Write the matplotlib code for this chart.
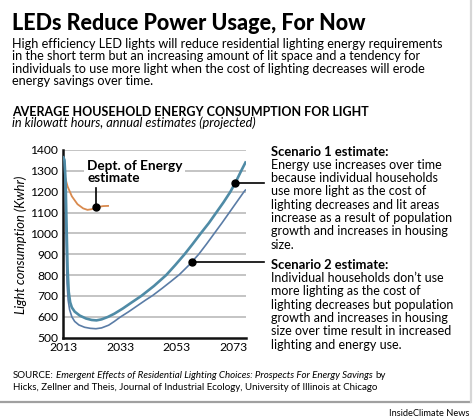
import numpy as np
import matplotlib.pyplot as plt
from matplotlib.lines import Line2D

plt.rcParams['font.family'] = ['Lato', 'DejaVu Sans']

# --- data ---
s1_years = [2013.0, 2013.4, 2013.8, 2014.2, 2014.5, 2014.9, 2015.4, 2016.0, 2017.0,
            2018.8, 2021.0, 2023.0, 2024.7, 2026.5, 2028.8, 2031.0, 2034.0, 2037.0,
            2040.5, 2045.0, 2049.3, 2052.5, 2055.8, 2058.7, 2061.5, 2064.4, 2067.0,
            2069.6, 2072.0, 2074.0, 2075.8, 2077.3]
s1_kwh = [1365, 1352, 1250, 1000, 830, 720, 670, 645, 625,
          606, 592, 585, 583, 588, 600, 615, 640, 668,
          700, 748, 800, 848, 900, 950, 1000, 1050, 1100,
          1150, 1200, 1250, 1300, 1340]

s2_years = [2013.0, 2013.4, 2013.7, 2014.0, 2014.3, 2014.7, 2015.2, 2016.0, 2017.0,
            2018.5, 2020.5, 2022.5, 2024.5, 2026.5, 2029.0, 2031.0, 2033.0, 2036.0,
            2039.0, 2042.0, 2044.6, 2048.0, 2051.0, 2054.0, 2057.5, 2060.8, 2063.5,
            2066.3, 2069.0, 2071.6, 2074.3, 2076.8, 2077.3]
s2_kwh = [1365, 1345, 1200, 950, 760, 680, 635, 600, 578,
          561, 550, 545, 543, 547, 560, 578, 598, 624,
          652, 680, 703, 738, 770, 803, 850, 900, 948,
          1000, 1050, 1100, 1152, 1200, 1208]

doe_years = [2013.0, 2013.6, 2014.5, 2016.0, 2018.0, 2020.0, 2021.5, 2023.0, 2025.0,
             2027.0, 2028.8]
doe_kwh = [1310, 1270, 1225, 1178, 1140, 1120, 1113, 1116, 1126, 1131, 1132]

y_ticks = [500, 600, 700, 800, 900, 1000, 1100, 1200, 1300, 1400]
x_ticks = [2013, 2033, 2053, 2073]

# years where the callout dots sit on each line
doe_dot_year = 2024.7
s1_dot_year = 2073.7
s2_dot_year = 2058.5

title = "LEDs Reduce Power Usage, For Now"
intro_lines = [
    "High efficiency LED lights will reduce residential lighting energy requirements",
    "in the short term but an increasing amount of lit space and a tendency for",
    "individuals to use more light when the cost of lighting decreases will erode",
    "energy savings over time.",
]
chart_title = "AVERAGE HOUSEHOLD ENERGY CONSUMPTION FOR LIGHT"
chart_sub = "in kilowatt hours, annual estimates (projected)"
s1_head = "Scenario 1 estimate:"
s1_lines = [
    "Energy use increases over time",
    "because individual households",
    "use more light as the cost of",
    "lighting decreases and lit areas",
    "increase as a result of population",
    "growth and increases in housing",
    "size.",
]
s2_head = "Scenario 2 estimate:"
s2_lines = [
    "Individual households don\u2019t use",
    "more lighting as the cost of",
    "lighting decreases but population",
    "growth and increases in housing",
    "size over time result in increased",
    "lighting and energy use.",
]

W, H = 474, 420
fig = plt.figure(figsize=(W / 100, H / 100), dpi=100)


def fx(px):
    return px / W


def fy(py):
    return 1 - py / H


# --- header text ---
fig.text(fx(12), fy(29.5), title, fontsize=15.5, fontweight='black', va='baseline')
for i, line in enumerate(intro_lines):
    fig.text(fx(12), fy(47.8 + i * 12.4), line, fontsize=9.1, va='baseline')
fig.text(fx(12), fy(115.7), chart_title, fontsize=9.0, fontweight='bold', va='baseline')
fig.text(fx(12), fy(127.3), chart_sub, fontsize=9.2, style='italic', va='baseline')

# --- chart ---
ax = fig.add_axes([fx(62.5), fy(337.7), fx(246) - fx(62.5), fy(150) - fy(337.7)])
ax.set_xlim(2012.7, 2077.5)
ax.set_ylim(500, 1400)

for v in y_ticks[1:]:
    ax.axhline(v, color='#b4b4b4', lw=1.1, zorder=1)

ax.plot(doe_years, doe_kwh, color='#d98a4e', lw=1.3, zorder=2)
ax.plot(s2_years, s2_kwh, color='#5a7ca6', lw=1.2, zorder=3)
ax.plot(s1_years, s1_kwh, color='#4f8ba6', lw=1.9, zorder=4)

for s in ['top', 'right']:
    ax.spines[s].set_visible(False)
for s in ['left', 'bottom']:
    ax.spines[s].set_linewidth(1.8)
    ax.spines[s].set_color('#111111')

ax.set_yticks(y_ticks)
ax.set_xticks(x_ticks)
ax.tick_params(length=0, labelsize=8.7, pad=3)
ax.set_facecolor('none')

fig.text(fx(21), fy(245), "Light consumption (Kwhr)", rotation=90, style='italic',
         fontsize=9.4, ha='center', va='center')

# Dept. of Energy callout
doe_val = np.interp(doe_dot_year, doe_years, doe_kwh)
ax.plot([doe_dot_year, doe_dot_year], [doe_val, 1218], color='black', lw=1.2, zorder=5)
ax.plot(doe_dot_year, doe_val, 'o', color='black', ms=5, zorder=6)
fig.text(fx(87), fy(181.5), "Dept. of Energy\nestimate", fontsize=9.8, fontweight='bold',
         ha='left', va='baseline', linespacing=1.0, zorder=4,
         bbox=dict(facecolor='white', edgecolor='none', pad=2.2))

# scenario callouts
s1_val = np.interp(s1_dot_year, s1_years, s1_kwh)
s2_val = np.interp(s2_dot_year, s2_years, s2_kwh)
ax.plot([s1_dot_year, 2083.8], [s1_val, s1_val], color='black', lw=1.2, clip_on=False, zorder=5)
ax.plot(s1_dot_year, s1_val, 'o', color='black', ms=5, zorder=6, clip_on=False)
ax.plot([s2_dot_year, 2083.8], [s2_val, s2_val], color='black', lw=1.2, clip_on=False, zorder=5)
ax.plot(s2_dot_year, s2_val, 'o', color='black', ms=5, zorder=6, clip_on=False)

fig.text(fx(271), fy(155.5), s1_head, fontsize=9.4, fontweight='bold', va='baseline')
for i, line in enumerate(s1_lines):
    fig.text(fx(271), fy(168.8 + i * 13.3), line, fontsize=9.0, va='baseline')
fig.text(fx(271), fy(268.8), s2_head, fontsize=9.4, fontweight='bold', va='baseline')
for i, line in enumerate(s2_lines):
    fig.text(fx(271), fy(282.1 + i * 13.3), line, fontsize=9.0, va='baseline')

# --- source ---
src_a = ax.annotate("SOURCE:", xy=(fx(13), fy(378.3)), xycoords='figure fraction',
                    fontsize=7.0, va='baseline', annotation_clip=False)
src_b = ax.annotate("Emergent Effects of Residential Lighting Choices: Prospects For Energy Savings",
                    xy=(1, 0), xycoords=src_a, xytext=(1.6, 0), textcoords='offset points',
                    fontsize=7.0, style='italic', va='bottom', annotation_clip=False)
ax.annotate("by", xy=(1, 0), xycoords=src_b, xytext=(1.6, 0), textcoords='offset points',
            fontsize=7.0, va='bottom', annotation_clip=False)
fig.text(fx(13), fy(390), "Hicks, Zellner and Theis, Journal of Industrial Ecology, "
         "University of Illinois at Chicago", fontsize=7.0, va='baseline')

fig.add_artist(Line2D([0, fx(470)], [fy(402.3), fy(402.3)], color='#a0a0a0', lw=1.6,
                      transform=fig.transFigure))
fig.add_artist(Line2D([fx(470.5), fx(470.5)], [fy(402.3), 1], color='#d6d6d6', lw=1.6,
                      transform=fig.transFigure))
fig.text(fx(469), fy(416.5), "InsideClimate News", fontsize=6.7, ha='right', va='baseline')

fig.savefig('out.png', dpi=100, facecolor='white')
